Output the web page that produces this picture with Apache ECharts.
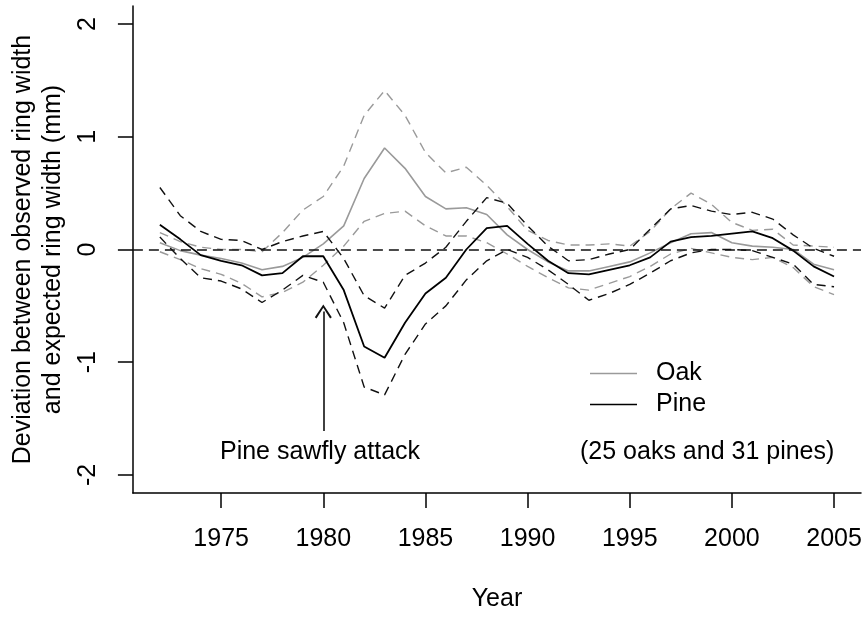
<!DOCTYPE html>
<html>
<head>
<meta charset="utf-8">
<title>Ring width deviation: oak and pine</title>
<script src="https://cdn.jsdelivr.net/npm/echarts@6/dist/echarts.min.js"></script>
<style>
html, body { margin: 0; padding: 0; background: #fff; }
#main { width: 868px; height: 624px; }
</style>
</head>
<body>
<div id="main"></div>
<script>
'use strict';

// years of the smoothed curves
let years = [1972, 1973, 1974, 1975, 1976, 1977, 1978, 1979, 1980, 1981,
             1982, 1983, 1984, 1985, 1986, 1987, 1988, 1989, 1990, 1991,
             1992, 1993, 1994, 1995, 1996, 1997, 1998, 1999, 2000, 2001,
             2002, 2003, 2004, 2005];

let xTicks = [1975, 1980, 1985, 1990, 1995, 2000, 2005];
let yTicks = [-2, -1, 0, 1, 2];

// deviation (mm)
let oak = [0.06, -0.01, -0.05, -0.08, -0.12, -0.18, -0.15, -0.07, 0.05, 0.21,
           0.63, 0.90, 0.72, 0.47, 0.36, 0.37, 0.31, 0.13, 0.00, -0.11,
           -0.19, -0.19, -0.15, -0.11, -0.03, 0.06, 0.14, 0.15, 0.06, 0.03,
           0.02, 0.00, -0.13, -0.18];
let oakUpper = [0.15, 0.07, 0.02, 0.00, 0.00, -0.02, 0.15, 0.35, 0.47, 0.74,
                1.19, 1.41, 1.19, 0.86, 0.68, 0.73, 0.57, 0.38, 0.17, 0.08,
                0.04, 0.04, 0.05, 0.03, 0.16, 0.36, 0.50, 0.40, 0.24, 0.17,
                0.18, 0.04, 0.03, 0.02];
let oakLower = [-0.02, -0.09, -0.17, -0.22, -0.30, -0.42, -0.38, -0.29, -0.14, 0.03,
                0.25, 0.32, 0.34, 0.21, 0.12, 0.12, 0.06, -0.04, -0.15, -0.25,
                -0.34, -0.36, -0.30, -0.24, -0.15, -0.04, 0.01, -0.03, -0.07, -0.09,
                -0.07, -0.16, -0.33, -0.40];

let pine = [0.22, 0.09, -0.05, -0.10, -0.14, -0.23, -0.21, -0.06, -0.06, -0.36,
            -0.86, -0.96, -0.65, -0.39, -0.25, 0.00, 0.19, 0.21, 0.05, -0.10,
            -0.21, -0.22, -0.18, -0.14, -0.07, 0.07, 0.11, 0.12, 0.14, 0.16,
            0.10, -0.01, -0.15, -0.24];
let pineUpper = [0.55, 0.30, 0.16, 0.09, 0.08, 0.00, 0.07, 0.12, 0.16, -0.08,
                 -0.41, -0.52, -0.23, -0.12, 0.02, 0.25, 0.46, 0.41, 0.21, 0.03,
                 -0.10, -0.09, -0.04, 0.00, 0.18, 0.36, 0.39, 0.34, 0.31, 0.33,
                 0.27, 0.13, 0.01, -0.06];
let pineLower = [0.11, -0.08, -0.25, -0.28, -0.35, -0.47, -0.36, -0.23, -0.29, -0.65,
                 -1.22, -1.29, -0.93, -0.66, -0.50, -0.27, -0.10, 0.00, -0.07, -0.18,
                 -0.31, -0.45, -0.39, -0.31, -0.21, -0.10, -0.03, 0.00, 0.00, -0.01,
                 -0.07, -0.13, -0.31, -0.33];

// annotation arrow (year, from, to)
let arrowYear = 1980;
let arrowFrom = -1.61;
let arrowTo = -0.55;

let FONT = 'Liberation Sans, Arial, sans-serif';
let FS = 25;
let GREY = '#9a9a9a';
let DASH = [9, 6];

let pair = function(vals){
	return years.map(function(yr, i){ return [yr, vals[i]]; });
};

let lineSeries = function(name, vals, color, width, dashed){
	return {
		name: name,
		type: 'line',
		data: pair(vals),
		symbol: 'none',
		showSymbol: false,
		silent: true,
		lineStyle: { color: color, width: width, type: dashed ? DASH : 'solid' },
		itemStyle: { color: color },
		z: 3
	};
};

let myChart = echarts.init(document.getElementById('main'), null, { renderer: 'canvas' });

let zeroSeries = lineSeries('Oak upper', oakUpper, GREY, 1.4, true);
zeroSeries.markLine = {
	silent: true,
	animation: false,
	symbol: 'none',
	label: { show: false },
	data: [
		{ yAxis: 0, lineStyle: { type: [10, 6], color: '#111', width: 1.5 } },
		[
			{ coord: [arrowYear, arrowFrom], symbol: 'none', lineStyle: { type: 'solid', color: '#111', width: 1.6 } },
			{ coord: [arrowYear, arrowTo], symbol: 'path://M5,0 L10,8 L9,8.8 L5,2 L1,8.8 L0,8 Z', symbolSize: [17, 14] }
		]
	]
};

let option = {
	animation: false,
	backgroundColor: '#fff',
	textStyle: { fontFamily: FONT },
	grid: { left: 130, right: 7, top: 6, bottom: 131, containLabel: false },
	xAxis: {
		type: 'value',
		min: 1970.68,
		max: 2006.32,
		name: 'Year',
		nameLocation: 'middle',
		nameGap: 94,
		nameTextStyle: { fontSize: FS, color: '#000', fontFamily: FONT },
		axisLine: { onZero: false, lineStyle: { color: '#000', width: 1.5 } },
		axisTick: { show: true, length: 15, inside: false, customValues: xTicks, lineStyle: { color: '#000', width: 1.5 } },
		axisLabel: {
			customValues: xTicks, fontSize: FS, color: '#000', margin: 34, fontFamily: FONT,
			formatter: function(v){ return String(v); }
		},
		splitLine: { show: false }
	},
	yAxis: {
		type: 'value',
		min: -2.16,
		max: 2.16,
		name: 'Deviation between observed ring width\nand expected ring width (mm)',
		nameLocation: 'middle',
		nameGap: 58,
		nameTextStyle: { fontSize: FS, lineHeight: 30, color: '#000', fontFamily: FONT },
		axisLine: { onZero: false, lineStyle: { color: '#000', width: 1.5 } },
		axisTick: { show: true, length: 15, inside: false, customValues: yTicks, lineStyle: { color: '#000', width: 1.5 } },
		axisLabel: { customValues: yTicks, rotate: 90, fontSize: FS, color: '#000', margin: 32, fontFamily: FONT },
		splitLine: { show: false }
	},
	legend: {
		data: ['Oak', 'Pine'],
		orient: 'vertical',
		left: 590,
		top: 361,
		padding: 0,
		itemWidth: 47,
		itemHeight: 1.6,
		itemGap: 6,
		icon: 'rect',
		selectedMode: false,
		textStyle: { fontSize: FS, color: '#000', fontFamily: FONT, padding: [0, 0, 0, 14] }
	},
	graphic: [
		{
			type: 'text',
			x: 320,
			y: 452,
			style: { text: 'Pine sawfly attack', fontSize: FS, fontFamily: FONT, fill: '#000', textAlign: 'center', textVerticalAlign: 'middle' }
		},
		{
			type: 'text',
			x: 580,
			y: 452,
			style: { text: '(25 oaks and 31 pines)', fontSize: FS, fontFamily: FONT, fill: '#000', textAlign: 'left', textVerticalAlign: 'middle' }
		}
	],
	series: [
		zeroSeries,
		lineSeries('Oak lower', oakLower, GREY, 1.4, true),
		lineSeries('Oak', oak, GREY, 1.6, false),
		lineSeries('Pine upper', pineUpper, '#111', 1.4, true),
		lineSeries('Pine lower', pineLower, '#111', 1.4, true),
		lineSeries('Pine', pine, '#000', 1.8, false)
	]
};

myChart.setOption(option);
</script>
</body>
</html>
